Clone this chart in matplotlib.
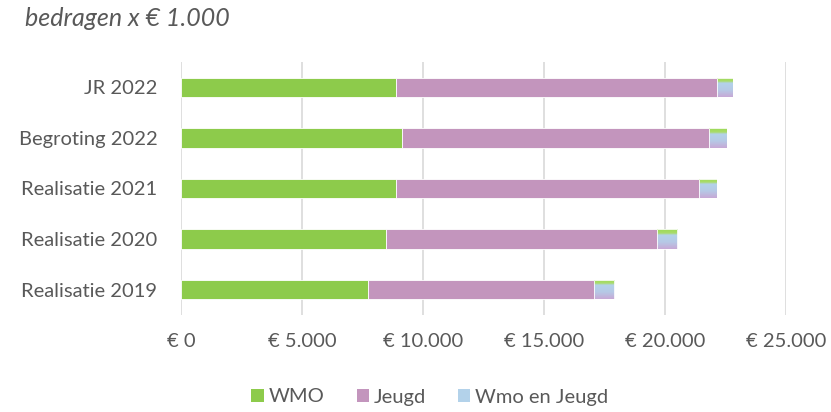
import numpy as np
import matplotlib
matplotlib.use("Agg")
import matplotlib.pyplot as plt
from matplotlib.patches import Patch
from matplotlib.colors import LinearSegmentedColormap
from matplotlib.ticker import FuncFormatter

plt.rcParams['font.family'] = ['Lato', 'DejaVu Sans']

# bedragen x 1.000 euro, van boven naar onder
categories = ["JR 2022", "Begroting 2022", "Realisatie 2021", "Realisatie 2020", "Realisatie 2019"]
wmo = [8880, 9130, 8880, 8470, 7730]
jeugd = [13270, 12690, 12520, 11200, 9340]
wmo_jeugd = [660, 740, 740, 830, 830]
xticks = [0, 5000, 10000, 15000, 20000, 25000]

GREEN = "#8DCB4B"
PURPLE = "#C395BD"
TEXT = "#595959"
GRID = "#D9D9D9"

# verloop voor de gecombineerde reeks: groen bovenaan, lichtblauw, lila onderaan
grad = LinearSegmentedColormap.from_list(
    "wj", [(0.0, "#9CD957"), (0.2, "#A9DC6A"), (0.3, "#B3D2EA"), (0.65, "#B6C9E6"), (1.0, "#C7A9D6")])

fig = plt.figure(figsize=(8.31, 4.12), dpi=100)
ax = fig.add_axes([181 / 831, 1 - 315 / 412, (786 - 181) / 831, 253 / 412])

y = np.arange(len(categories))
h = 0.38
left = np.zeros(len(categories))
ax.barh(y, wmo, height=h, left=left, color=GREEN, edgecolor="white", linewidth=0.6, zorder=3)
left += wmo
ax.barh(y, jeugd, height=h, left=left, color=PURPLE, edgecolor="white", linewidth=0.6, zorder=3)
left += jeugd
bars = ax.barh(y, wmo_jeugd, height=h, left=left, color="none", edgecolor="white", linewidth=0.6, zorder=5)

gradimg = np.linspace(0, 1, 100).reshape(-1, 1)
for b in bars:
    x0, y0 = b.get_x(), b.get_y()
    im = ax.imshow(gradimg, cmap=grad, aspect="auto", zorder=4,
                   extent=[x0, x0 + b.get_width(), y0, y0 + b.get_height()], origin="lower")
    im.set_clip_path(b)

ax.set_xlim(0, 25000)
ax.set_ylim(len(categories) - 0.5, -0.5)
ax.set_yticks(y)
ax.set_yticklabels(categories)
ax.set_xticks(xticks)
ax.xaxis.set_major_formatter(FuncFormatter(lambda v, p: "€ " + f"{int(v):,}".replace(",", ".")))
ax.grid(axis="x", color=GRID, linewidth=1.2, zorder=0)
ax.tick_params(axis="both", length=0, colors=TEXT, labelsize=14.5)
ax.tick_params(axis="x", pad=13)
ax.tick_params(axis="y", pad=17)
for s in ax.spines.values():
    s.set_visible(False)

fig.text(25 / 831, 1 - 19 / 412, "bedragen x € 1.000", style="italic", color=TEXT,
         fontsize=18, va="center", ha="left")

handles = [Patch(facecolor=GREEN, label="WMO"),
           Patch(facecolor=PURPLE, label="Jeugd"),
           Patch(facecolor="#B3D2EA", label="Wmo en Jeugd")]
fig.legend(handles=handles, loc="center", bbox_to_anchor=(430 / 831, 1 - 397 / 412), ncol=3,
           frameon=False, fontsize=14.5, labelcolor=TEXT, handlelength=0.6, handleheight=0.6,
           handletextpad=0.25, columnspacing=1.6)

fig.savefig("out.png", dpi=100)
